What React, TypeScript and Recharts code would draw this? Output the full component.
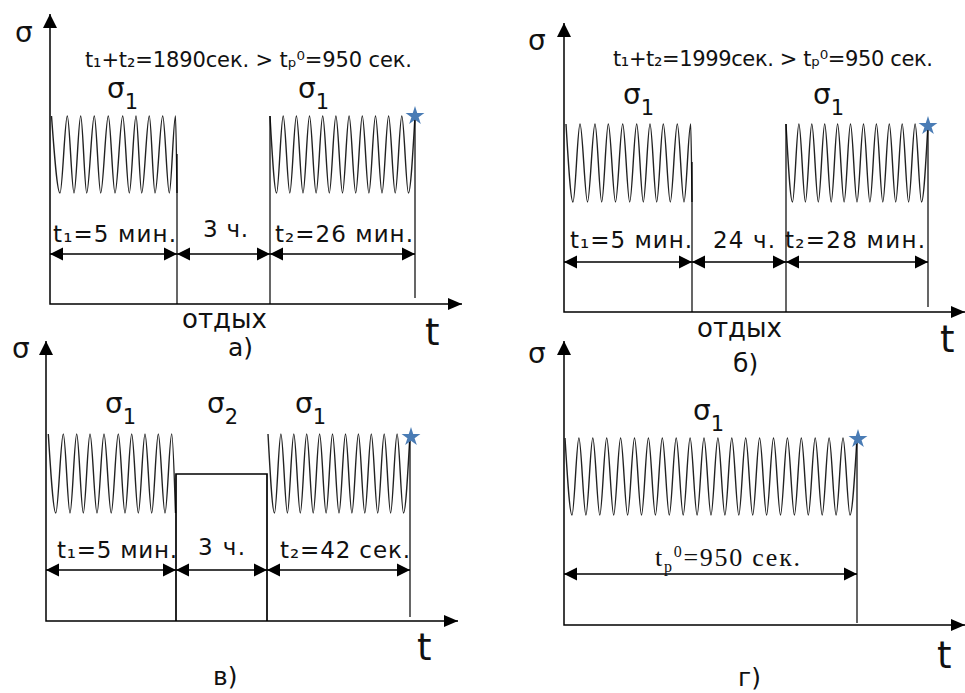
import React from "react";
import { ComposedChart, Line, XAxis, YAxis, ReferenceDot, Symbols } from "recharts";

type Pt = { t: number; s: number; dir?: string };

const FONT = "'DejaVu Sans', Verdana, sans-serif";
const SERIF = "'Liberation Serif', 'DejaVu Serif', 'Times New Roman', serif";

// подписи
const TITLE_A = "t₁+t₂=1890сек. > tₚ⁰=950 сек.";
const TITLE_B = "t₁+t₂=1999сек. > tₚ⁰=950 сек.";
const DIMS_A = ["t₁=5 мин.", "3 ч.", "t₂=26 мин."];
const DIMS_B = ["t₁=5 мин.", "24 ч.", "t₂=28 мин."];
const DIMS_V = ["t₁=5 мин.", "3 ч.", "t₂=42 сек."];
const REST = "отдых";
const TAGS = ["а)", "б)", "в)", "г)"];

// а) экстремумы синусоиды (пик, впадина, ...) и уровни σ
const A_W1 = [1.5, 10, 17.3, 24, 30.7, 36.7, 44.3, 50.7, 58.3, 65, 72.7, 79.3, 86, 91.7, 99.3, 105, 112.7, 119.3, 125.5, 127];
const A_W2 = [220, 226.6, 233.2, 239.8, 246.4, 253, 259.5, 266.1, 272.7, 279.3, 285.9, 292.5, 299.1, 305.7, 312.3, 318.9, 325.5, 332, 338.6, 345.2, 351.8, 358.4, 365];
const A_LV = [188, 111];
const A_BOUNDS = [0, 127, 220, 365];

// б)
const B_W1 = [2, 9, 16, 23.5, 31, 37.7, 44.3, 51.5, 58.7, 65.7, 72.7, 79.3, 86, 92.7, 99.3, 106.3, 113.3, 120, 126.7, 128];
const B_W2 = [222, 228.5, 234.9, 241.4, 247.8, 254.3, 260.7, 267.2, 273.6, 280.1, 286.5, 293, 299.5, 305.9, 312.4, 318.8, 325.3, 331.7, 338.2, 344.6, 351.1, 357.5, 364];
const B_LV = [188, 110];
const B_BOUNDS = [0, 128, 222, 364];

// в)
const V_W1 = [2.3, 9.8, 17.3, 24, 30.7, 37.3, 44, 51, 58, 65.2, 72.3, 79, 85.7, 92.3, 99, 105.7, 112.3, 119, 125.7, 129.5];
const V_W2 = [222, 228.5, 234.9, 241.4, 247.8, 254.3, 260.7, 267.2, 273.6, 280.1, 286.5, 293, 299.5, 305.9, 312.4, 318.8, 325.3, 331.7, 338.2, 344.6, 351.1, 357.5, 364];
const V_LV = [187, 108];
const V_SIGMA2 = 147;
const V_BOUNDS = [0, 130, 221, 364];

// г)
const G_W = [1, 8, 14.9, 21.9, 28.8, 35.8, 42.7, 49.7, 56.6, 63.6, 70.5, 77.5, 84.4, 91.4, 98.3, 105.3, 112.2, 119.2, 126.1, 133.1, 140, 147, 153.9, 160.9, 167.8, 174.8, 181.7, 188.7, 195.6, 202.6, 209.5, 216.5, 223.4, 230.4, 237.3, 244.3, 251.2, 258.2, 265.1, 272.1, 279, 286, 293];
const G_LV = [187, 110];
const G_BOUNDS = [0, 293];

const wave = (ts: number[], lv: number[]): Pt[] => ts.map((t, i) => ({ t, s: lv[i % 2] }));

function Head(p: any) {
  const { cx, cy, payload, index } = p;
  const d = payload && payload.dir;
  if (!d || cx == null || cy == null) return <g key={"h" + index} />;
  let pts = "";
  if (d === "r") pts = `${cx},${cy} ${cx - 13},${cy - 6.5} ${cx - 13},${cy + 6.5}`;
  if (d === "l") pts = `${cx},${cy} ${cx + 13},${cy - 6.5} ${cx + 13},${cy + 6.5}`;
  if (d === "R") pts = `${cx},${cy} ${cx - 14},${cy - 6} ${cx - 14},${cy + 6}`;
  if (d === "u") pts = `${cx},${cy} ${cx - 7},${cy + 14} ${cx + 7},${cy + 14}`;
  return <polygon key={"h" + index} points={pts} fill="#000" />;
}

const path = (key: string, data: Pt[], w = 1.4, color = "#000", curve: any = "linear") => (
  <Line key={key} data={data} dataKey="s" type={curve} stroke={color} strokeWidth={w}
    dot={data.some((d) => d.dir) ? Head : false} activeDot={false}
    isAnimationActive={false} legendType="none" />
);

const osc = (key: string, ts: number[], lv: number[]) => path(key, wave(ts, lv), 1.4, "#222", "monotone");

const axes = (top: number, end: number) =>
  path("ax", [{ t: 0, s: top, dir: "u" }, { t: 0, s: 0 }, { t: end, s: 0, dir: "R" }], 1.5);

const vert = (key: string, t: number, s0: number, s1: number) =>
  path(key, [{ t, s: s0 }, { t, s: s1 }], 1.2);

const dims = (key: string, b: number[], s: number) =>
  b.slice(1).map((t1, i) =>
    path(key + i, [{ t: b[i], s, dir: "l" }, { t: t1, s, dir: "r" }], 1.6));

const label = (key: string, t: number, s: number, body: React.ReactNode, size = 23, width?: number, family = FONT) => (
  <ReferenceDot key={key} x={t} y={s} r={0} ifOverflow="visible"
    shape={(p: any) => (
      <text x={p.cx} y={p.cy} style={{ fontSize: size, fontFamily: family }} fill="#111"
        textLength={width} lengthAdjust={width ? "spacing" : undefined}>{body}</text>
    )} />
);

const sig = (key: string, t: number, s: number, sub: string) =>
  label(key, t, s, <>σ<tspan style={{ fontSize: 21 }} dy={11}>{sub}</tspan></>, 28);

const star = (t: number, s: number) => (
  <ReferenceDot key="star" x={t} y={s} r={0} ifOverflow="visible"
    shape={(p: any) => <Symbols cx={p.cx} cy={p.cy} type="star" size={110} fill="#4a7cb5" />} />
);

function Frame({ box, xd, yd, children }: any) {
  return (
    <div style={{ position: "absolute", left: box[0], top: box[1] }}>
      <ComposedChart width={box[2]} height={box[3]} margin={{ top: 0, right: 0, bottom: 0, left: 0 }}>
        <XAxis type="number" dataKey="t" domain={xd} hide allowDataOverflow />
        <YAxis type="number" dataKey="s" domain={yd} hide allowDataOverflow />
        {children}
      </ComposedChart>
    </div>
  );
}

export default function App() {
  return (
    <div style={{ position: "absolute", left: 0, top: 0, width: 965, height: 693, background: "#fff", overflow: "hidden" }}>
      {/* а) */}
      <Frame box={[0, 0, 482, 368]} xd={[-50, 432]} yd={[-64, 304]}>
        {axes(290, 412)}
        {osc("w1", A_W1, A_LV)}
        {osc("w2", A_W2, A_LV)}
        {vert("v1", A_BOUNDS[1], 0, 150)}
        {vert("v2", A_BOUNDS[2], 0, A_LV[0])}
        {vert("v3", A_BOUNDS[3], 6, A_LV[0])}
        {dims("d", A_BOUNDS, 50)}
        {star(365, 188)}
        {label("sa", -35, 262, "σ", 28)}
        {label("ti", 35, 237, TITLE_A, 21, 327)}
        {sig("s1", 57, 206, "1")}
        {sig("s2", 248, 206, "1")}
        {label("l1", 3, 62, DIMS_A[0], 23, 123)}
        {label("l2", 153, 67, DIMS_A[1], 23, 45)}
        {label("l3", 225, 62, DIMS_A[2], 23, 138)}
        {label("re", 132, -24, REST, 26, 85)}
        {label("tt", 375, -41, "t", 37)}
        {label("tg", 178, -52, TAGS[0], 25)}
      </Frame>

      {/* б) */}
      <Frame box={[482, 0, 483, 382]} xd={[-82, 401]} yd={[-70, 312]}>
        {axes(289, 401)}
        {osc("w1", B_W1, B_LV)}
        {osc("w2", B_W2, B_LV)}
        {vert("v1", B_BOUNDS[1], 0, 150)}
        {vert("v2", B_BOUNDS[2], 0, B_LV[0])}
        {vert("v3", B_BOUNDS[3], 5, 186)}
        {dims("d", B_BOUNDS, 50)}
        {star(364, 186)}
        {label("sa", -36, 262, "σ", 28)}
        {label("ti", 49, 246, TITLE_B, 21, 320)}
        {sig("s1", 59, 208, "1")}
        {sig("s2", 249, 208, "1")}
        {label("l1", 6, 64, DIMS_B[0], 23, 122)}
        {label("l2", 149, 64, DIMS_B[1], 23, 62)}
        {label("l3", 221, 64, DIMS_B[2], 23, 140)}
        {label("re", 133, -25, REST, 26, 85)}
        {label("tt", 376, -40, "t", 37)}
        {label("tg", 169, -60, TAGS[1], 25)}
      </Frame>

      {/* в) */}
      <Frame box={[0, 318, 482, 375]} xd={[-46, 436]} yd={[-72, 303]}>
        {axes(280, 412)}
        {osc("w1", V_W1, V_LV)}
        {osc("w2", V_W2, V_LV)}
        {path("s2", [
          { t: V_BOUNDS[1], s: 0 }, { t: V_BOUNDS[1], s: V_SIGMA2 },
          { t: V_BOUNDS[2], s: V_SIGMA2 }, { t: V_BOUNDS[2], s: 0 },
        ], 1.7)}
        {vert("v3", V_BOUNDS[3], 4, 184)}
        {dims("d", V_BOUNDS, 51)}
        {star(365, 184)}
        {label("sa", -34, 263, "σ", 28)}
        {sig("s1", 59, 208, "1")}
        {sig("s2b", 161, 208, "2")}
        {sig("s3", 249, 208, "1")}
        {label("l1", 11, 63, DIMS_V[0], 23, 120)}
        {label("l2", 152, 66, DIMS_V[1], 23, 47)}
        {label("l3", 234, 63, DIMS_V[2], 23, 130)}
        {label("tt", 371, -39, "t", 37)}
        {label("tg", 167, -64, TAGS[2], 25)}
      </Frame>

      {/* г) */}
      <Frame box={[482, 318, 483, 375]} xd={[-82, 401]} yd={[-68, 307]}>
        {axes(284, 401)}
        {osc("w", G_W, G_LV)}
        {vert("v", G_BOUNDS[1], 2, 186)}
        {dims("d", G_BOUNDS, 51)}
        {star(294, 186)}
        {label("sa", -36, 262, "σ", 28)}
        {sig("s1", 129, 205, "1")}
        {label("tp", 91, 59,
          <>t<tspan style={{ fontSize: 16 }} dy={6}>p</tspan><tspan style={{ fontSize: 16 }} dy={-15}>0</tspan><tspan dy={9}>=950 сек.</tspan></>,
          26, 145, SERIF)}
        {label("tt", 373, -43, "t", 37)}
        {label("tg", 174, -61, TAGS[3], 25)}
      </Frame>
    </div>
  );
}
